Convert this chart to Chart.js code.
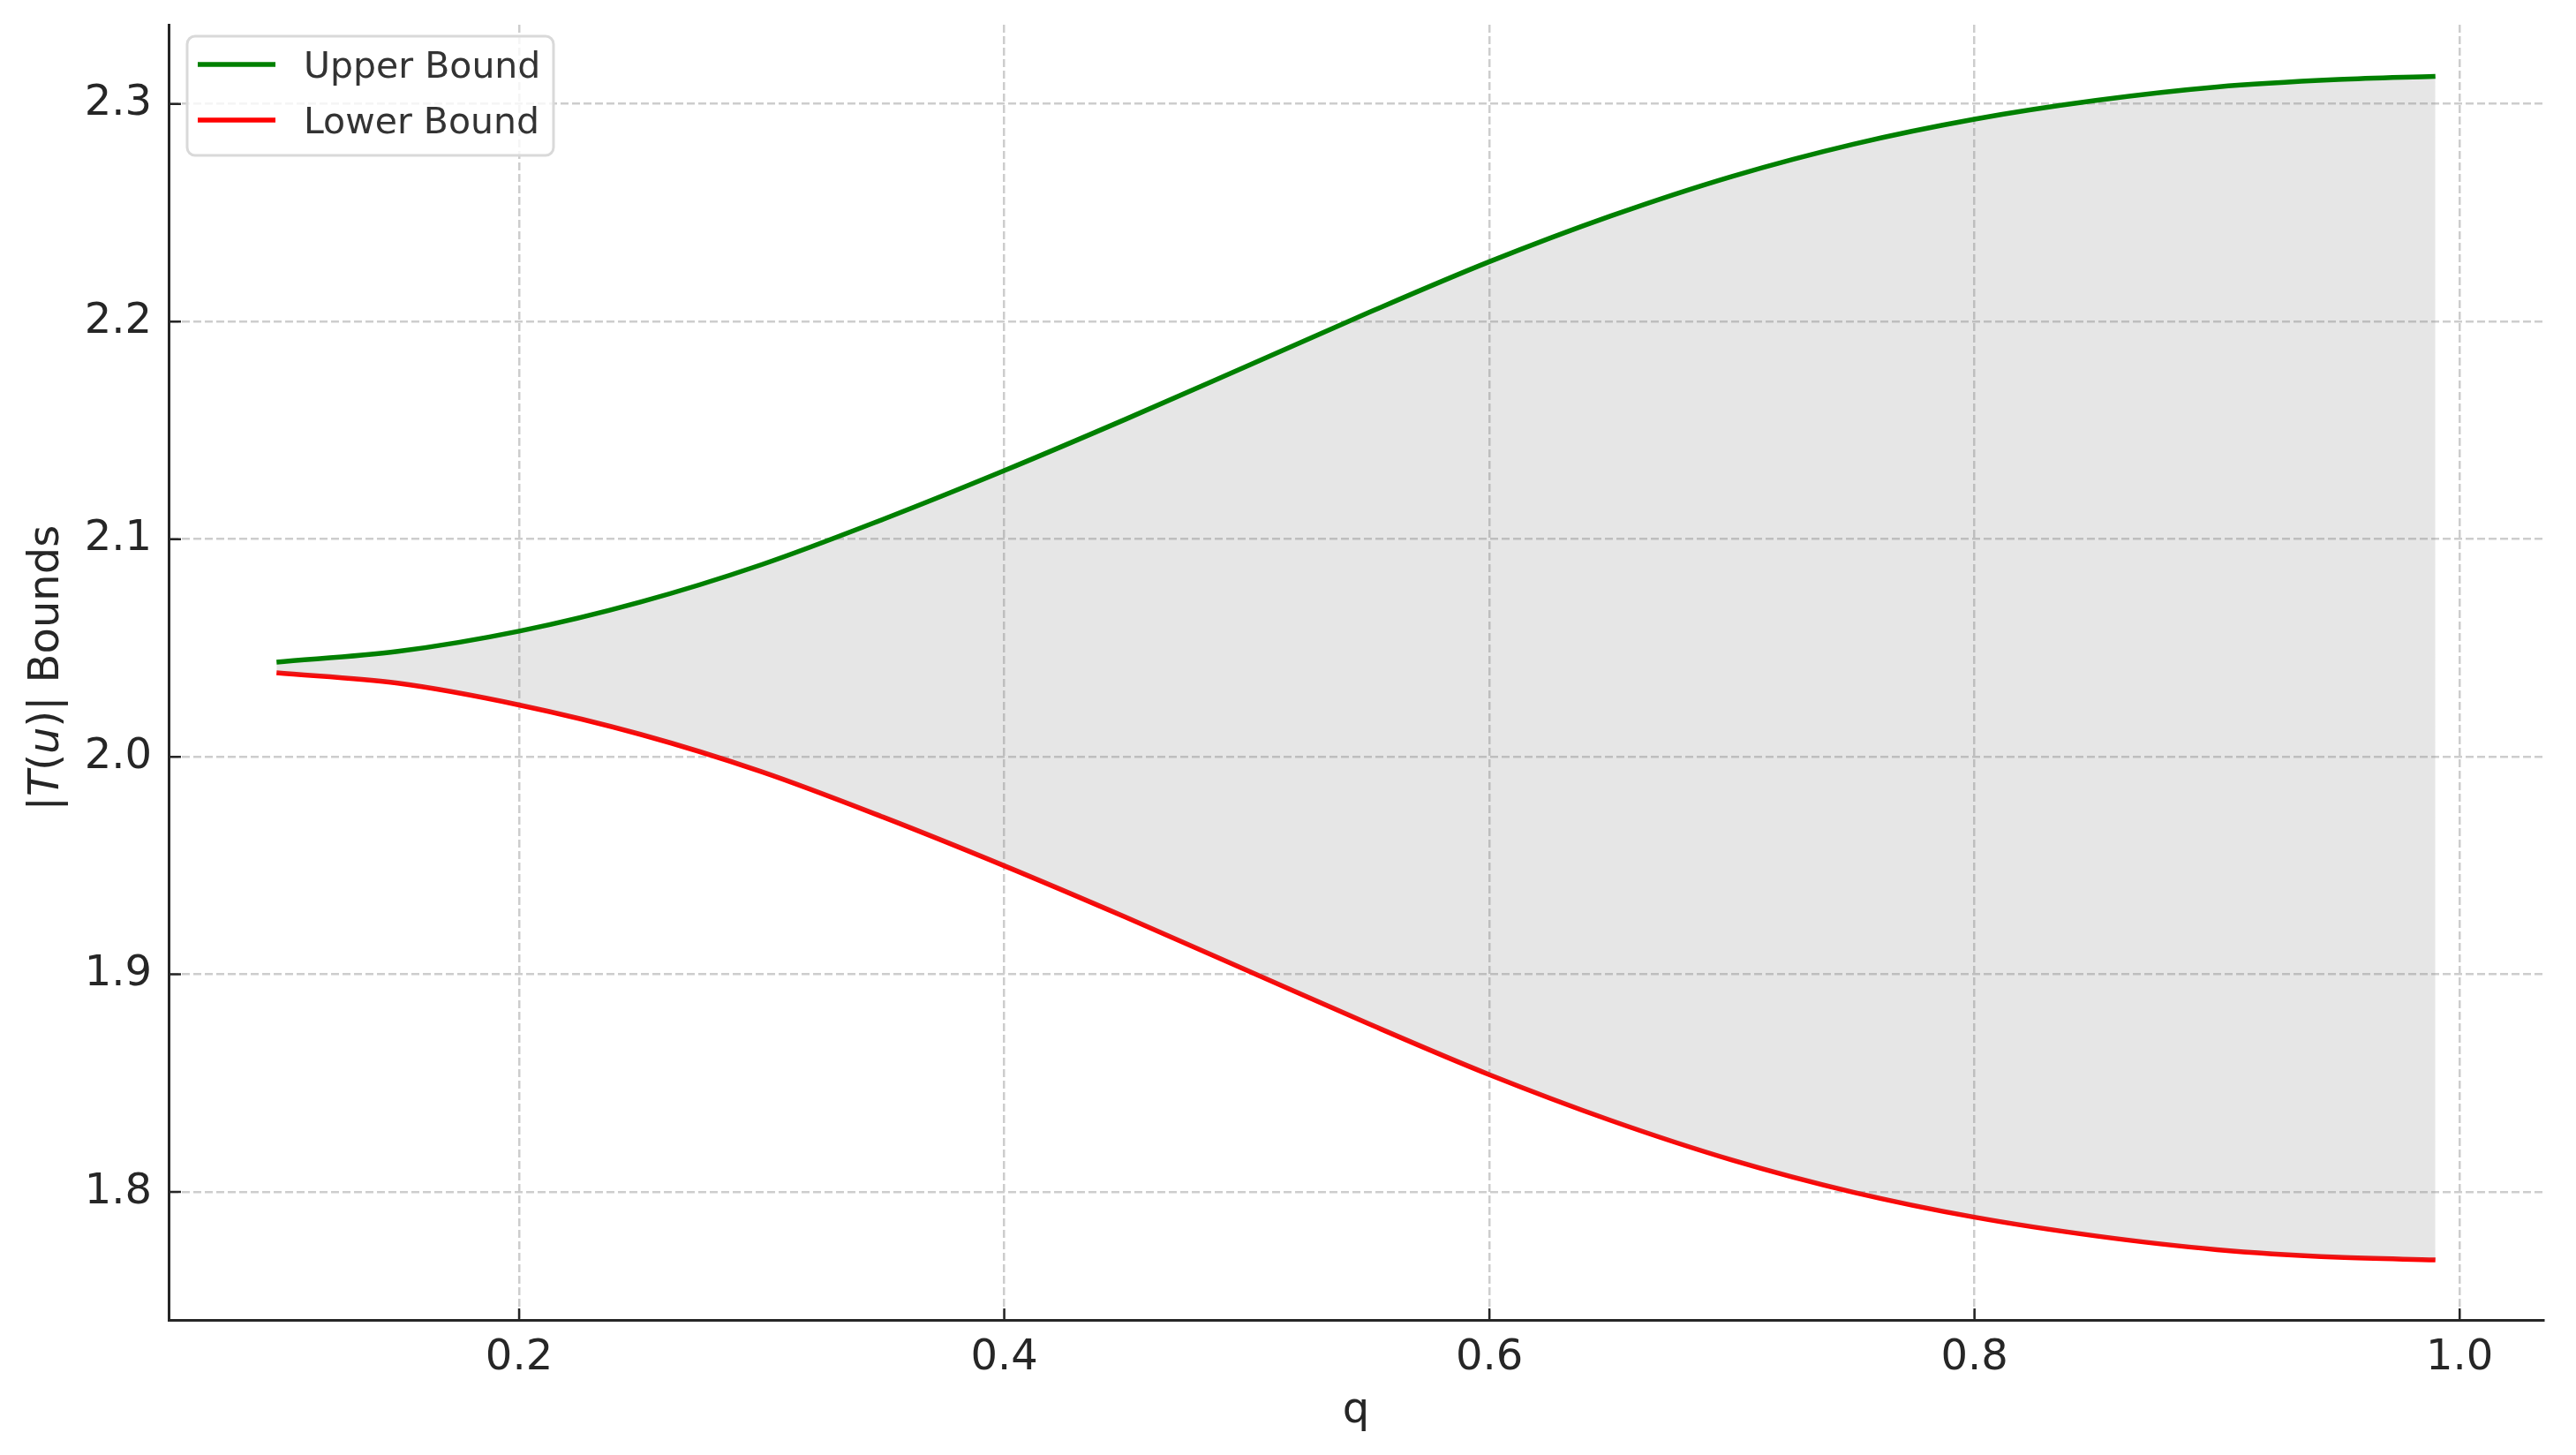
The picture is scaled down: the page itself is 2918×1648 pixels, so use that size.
<!DOCTYPE html>
<html>
<head>
<meta charset="utf-8">
<title>|T(u)| Bounds</title>
<script src="https://cdn.jsdelivr.net/npm/chart.js@4.4.1/dist/chart.umd.min.js"></script>
<style>
  html, body { margin: 0; padding: 0; background: #fff; }
  #wrap { width: 2918px; height: 1648px; }
</style>
</head>
<body>
<div id="wrap"><canvas id="boundsChart" width="2918" height="1648"></canvas></div>
<script>
// data
const qValues = [0.10, 0.15, 0.20, 0.25, 0.30, 0.35, 0.40, 0.45, 0.50, 0.55,
                 0.60, 0.65, 0.70, 0.75, 0.80, 0.85, 0.90, 0.95, 0.99];
const upperBound = [2.0435, 2.0484, 2.0577, 2.0711, 2.0883, 2.1091, 2.1315, 2.1551, 2.1795, 2.2040,
                    2.2275, 2.2485, 2.2667, 2.2815, 2.2930, 2.3016, 2.3078, 2.3112, 2.3127];
const lowerBound = [2.0386, 2.0338, 2.0238, 2.0103, 1.9931, 1.9723, 1.9499, 1.9263, 1.9019, 1.8774,
                    1.8539, 1.8329, 1.8147, 1.7999, 1.7884, 1.7798, 1.7735, 1.7700, 1.7688];
const xTicks = [0.2, 0.4, 0.6, 0.8, 1.0];
const yTicks = [1.8, 1.9, 2.0, 2.1, 2.2, 2.3];
const seriesNames = ['Upper Bound', 'Lower Bound'];

const FONT = 'DejaVu Sans';
const INK = '#262626';

function toPoints(ys) {
  return qValues.map((q, i) => ({ x: q, y: ys[i] }));
}

// Inward tick marks (matplotlib style)
const innerTicks = {
  id: 'innerTicks',
  afterDraw(chart) {
    const { ctx, chartArea, scales } = chart;
    ctx.save();
    ctx.strokeStyle = INK;
    ctx.lineWidth = 2.5;
    ctx.beginPath();
    xTicks.forEach(v => {
      const px = scales.x.getPixelForValue(v);
      ctx.moveTo(px, chartArea.bottom);
      ctx.lineTo(px, chartArea.bottom - 13);
    });
    yTicks.forEach(v => {
      const py = scales.y.getPixelForValue(v);
      ctx.moveTo(chartArea.left, py);
      ctx.lineTo(chartArea.left + 14, py);
    });
    ctx.stroke();
    ctx.restore();
  }
};

// y axis title with italic T and u
const yTitle = {
  id: 'yTitle',
  afterDraw(chart) {
    const { ctx, chartArea } = chart;
    const parts = [
      ['|', 'normal'], ['T', 'italic'], ['(', 'normal'], ['u', 'italic'],
      [')|', 'normal'], [' Bounds', 'normal']
    ];
    ctx.save();
    ctx.translate(66, (chartArea.top + chartArea.bottom) / 2 - 5);
    ctx.rotate(-Math.PI / 2);
    ctx.fillStyle = INK;
    ctx.textBaseline = 'alphabetic';
    ctx.textAlign = 'left';
    let total = 0;
    parts.forEach(([t, st]) => { ctx.font = st + ' 48px "' + FONT + '"'; total += ctx.measureText(t).width; });
    let x = -total / 2;
    parts.forEach(([t, st]) => {
      ctx.font = st + ' 48px "' + FONT + '"';
      ctx.fillText(t, x, 0);
      x += ctx.measureText(t).width;
    });
    ctx.restore();
  }
};

// framed legend in the upper left corner
const boxLegend = {
  id: 'boxLegend',
  afterDraw(chart) {
    const { ctx, chartArea } = chart;
    const x0 = chartArea.left + 21, y0 = 41, w = 415, h = 135, r = 9;
    ctx.save();
    ctx.beginPath();
    ctx.roundRect(x0, y0, w, h, r);
    ctx.fillStyle = 'rgba(255,255,255,0.8)';
    ctx.fill();
    ctx.lineWidth = 3;
    ctx.strokeStyle = '#d9d9d9';
    ctx.stroke();
    chart.data.datasets.forEach((ds, i) => {
      const ly = 73 + i * 63;
      ctx.beginPath();
      ctx.moveTo(x0 + 12, ly);
      ctx.lineTo(x0 + 100, ly);
      ctx.strokeStyle = ds.borderColor;
      ctx.lineWidth = 5.5;
      ctx.stroke();
      ctx.font = '41px "' + FONT + '"';
      ctx.fillStyle = '#333';
      ctx.textBaseline = 'alphabetic';
      ctx.fillText(ds.label, x0 + 132, ly + 15);
    });
    ctx.restore();
  }
};

const ctx = document.getElementById('boundsChart').getContext('2d');
new Chart(ctx, {
  type: 'line',
  data: {
    datasets: [
      {
        label: seriesNames[0],
        data: toPoints(upperBound),
        borderColor: '#008000',
        borderWidth: 5.5,
        pointRadius: 0,
        cubicInterpolationMode: 'monotone',
        fill: '+1',
        backgroundColor: 'rgba(128,128,128,0.2)'
      },
      {
        label: seriesNames[1],
        data: toPoints(lowerBound),
        borderColor: '#ff0000',
        borderWidth: 5.5,
        pointRadius: 0,
        cubicInterpolationMode: 'monotone',
        fill: false
      }
    ]
  },
  options: {
    responsive: false,
    animation: false,
    layout: { padding: { top: 28, right: 37, left: 0, bottom: 0 } },
    plugins: {
      legend: { display: false },
      tooltip: { enabled: false }
    },
    scales: {
      x: {
        type: 'linear',
        min: 0.0555,
        max: 1.0345,
        afterFit: s => { s.height = 153; s.paddingLeft = 0; s.paddingRight = 0; },
        afterBuildTicks: s => { s.ticks = xTicks.map(v => ({ value: v })); },
        ticks: {
          padding: 15,
          color: INK,
          font: { family: FONT, size: 48 },
          callback: v => v.toFixed(1)
        },
        grid: { color: '#cdcdcd', lineWidth: 2.5, drawTicks: false },
        border: { display: true, color: INK, width: 3, dash: [9, 4] },
        title: {
          display: true,
          text: 'q',
          color: INK,
          font: { family: FONT, size: 48 },
          padding: { top: 0, bottom: 21 }
        }
      },
      y: {
        type: 'linear',
        min: 1.7412,
        max: 2.3364,
        afterFit: s => { s.width = 191; s.paddingTop = 0; s.paddingBottom = 0; },
        afterBuildTicks: s => { s.ticks = yTicks.map(v => ({ value: v })); },
        ticks: {
          padding: 19,
          color: INK,
          font: { family: FONT, size: 48 },
          callback: v => v.toFixed(1)
        },
        grid: { color: '#cdcdcd', lineWidth: 2.5, drawTicks: false },
        border: { display: true, color: INK, width: 3, dash: [9, 4] }
      }
    }
  },
  plugins: [innerTicks, yTitle, boxLegend]
});
</script>
</body>
</html>
